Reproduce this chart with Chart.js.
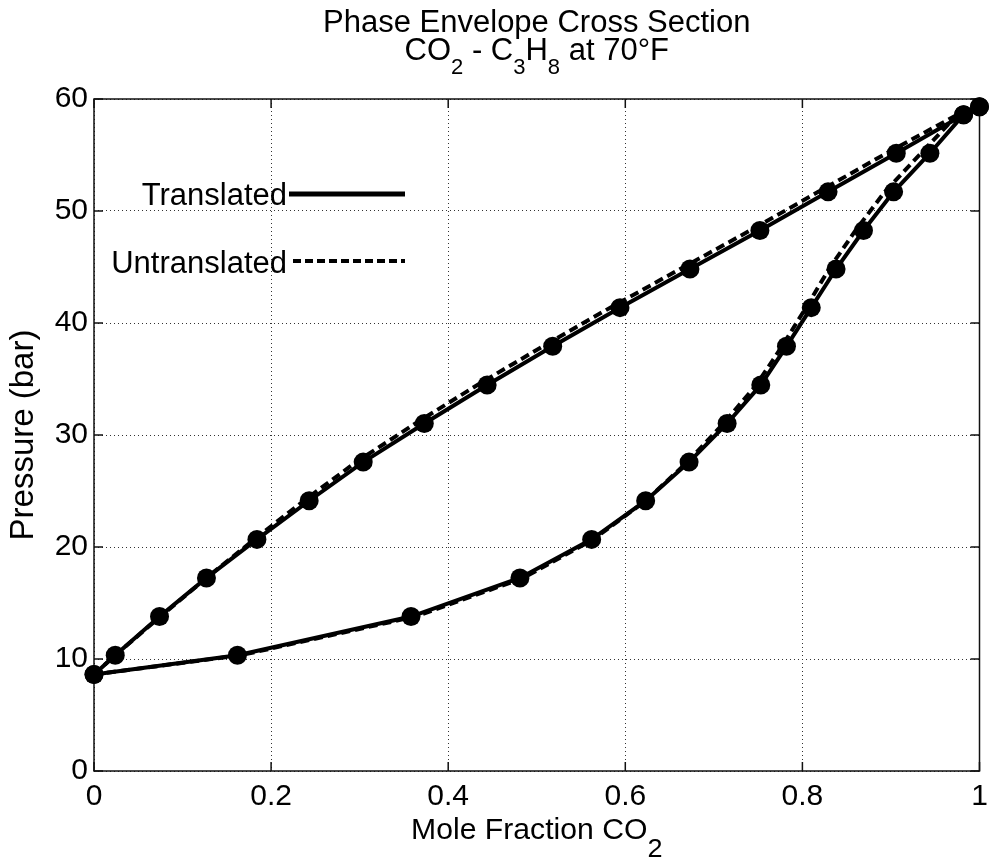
<!DOCTYPE html>
<html>
<head>
<meta charset="utf-8">
<title>Phase Envelope Cross Section</title>
<script src="https://cdn.jsdelivr.net/npm/chart.js@4.4.1/dist/chart.umd.min.js"></script>
<style>
  html, body { margin: 0; padding: 0; background: #fff; }
  #wrap { width: 989px; height: 860px; }
</style>
</head>
<body>
<div id="wrap"><canvas id="phase-chart" width="989" height="860"></canvas></div>
<script>
// pressure levels (bar) shared by both branches of the envelope
const PRESSURES = [8.62, 10.34, 13.79, 17.24, 20.68, 24.13, 27.58, 31.03, 34.47, 37.92, 41.37, 44.82, 48.26, 51.71, 55.16, 58.6, 59.3];

// mole fraction CO2, upper (bubble) and lower (dew) branches
const TRANSLATED_BUBBLE_X = [0, 0.024, 0.074, 0.127, 0.184, 0.243, 0.304, 0.373, 0.444, 0.518, 0.594, 0.673, 0.752, 0.829, 0.906, 0.982, 1.0];
const TRANSLATED_DEW_X = [0, 0.162, 0.358, 0.481, 0.562, 0.623, 0.672, 0.715, 0.753, 0.782, 0.810, 0.838, 0.869, 0.903, 0.944, 0.982, 1.0];
const UNTRANSLATED_BUBBLE_X = [0, 0.024, 0.075, 0.127, 0.181, 0.237, 0.296, 0.363, 0.433, 0.507, 0.583, 0.662, 0.741, 0.818, 0.895, 0.975, 1.0];
const UNTRANSLATED_DEW_X = [0, 0.166, 0.363, 0.485, 0.564, 0.623, 0.670, 0.711, 0.748, 0.777, 0.804, 0.830, 0.860, 0.893, 0.934, 0.975, 1.0];

const X_TICKS = [0, 0.2, 0.4, 0.6, 0.8, 1];
const Y_TICKS = [0, 10, 20, 30, 40, 50, 60];

const FONT = "'Liberation Sans', Arial, Helvetica, sans-serif";
const TICK_LEN = 9;

/**
 * Builds a closed loop: bubble branch going up, dew branch coming back down
 */
function envelope(bubbleX, dewX) {
  const up = bubbleX.map((x, i) => ({ x: x, y: PRESSURES[i] }));
  const down = dewX.map((x, i) => ({ x: x, y: PRESSURES[i] })).reverse();
  return up.concat(down);
}

/**
 * Draws a line of text with subscript pieces, centred on cx
 * parts: [text, isSub]
 */
function drawRich(ctx, parts, cx, baseline, opts) {
  ctx.save();
  ctx.textAlign = 'left';
  ctx.textBaseline = 'alphabetic';
  ctx.fillStyle = '#000';
  const widths = parts.map(([t, sub]) => {
    ctx.font = `${sub ? opts.subSize : opts.size}px ${FONT}`;
    return ctx.measureText(t).width;
  });
  const total = widths.reduce((a, b) => a + b, 0);
  ctx.translate(cx, baseline);
  ctx.scale(opts.stretch, 1);
  let x = -total / 2;
  parts.forEach(([t, sub], i) => {
    ctx.font = `${sub ? opts.subSize : opts.size}px ${FONT}`;
    ctx.fillText(t, x, sub ? opts.subDrop : 0);
    x += widths[i];
  });
  ctx.restore();
}

// box round the axes with inward ticks on all four sides
const framePlugin = {
  id: 'frame',
  beforeDatasetsDraw(chart) {
    const { ctx, chartArea: a, scales } = chart;
    ctx.save();
    ctx.strokeStyle = '#111';
    ctx.lineWidth = 1.5;
    ctx.strokeRect(a.left, a.top, a.right - a.left, a.bottom - a.top);
    ctx.beginPath();
    X_TICKS.forEach((v) => {
      const px = scales.x.getPixelForValue(v);
      ctx.moveTo(px, a.bottom);
      ctx.lineTo(px, a.bottom - TICK_LEN);
      ctx.moveTo(px, a.top);
      ctx.lineTo(px, a.top + TICK_LEN);
    });
    Y_TICKS.forEach((v) => {
      const py = scales.y.getPixelForValue(v);
      ctx.moveTo(a.left, py);
      ctx.lineTo(a.left + TICK_LEN, py);
      ctx.moveTo(a.right, py);
      ctx.lineTo(a.right - TICK_LEN, py);
    });
    ctx.stroke();
    ctx.restore();
  },
};

// titles with subscripts and the in-plot legend
const textPlugin = {
  id: 'texts',
  afterDraw(chart) {
    const { ctx, chartArea: a } = chart;
    const cx = (a.left + a.right) / 2;

    drawRich(ctx, [['Phase Envelope Cross Section', false]], cx, 32, { size: 31, subSize: 22, subDrop: 14, stretch: 1.0 });
    drawRich(ctx, [['CO', false], ['2', true], [' - C', false], ['3', true], ['H', false], ['8', true], [' at 70°F', false]],
      cx, 60, { size: 31, subSize: 22, subDrop: 14, stretch: 1.0 });
    drawRich(ctx, [['Mole Fraction CO', false], ['2', true]], cx, 839, { size: 29, subSize: 26, subDrop: 18, stretch: 1.04 });

    // legend
    ctx.save();
    ctx.fillStyle = '#000';
    ctx.font = `31px ${FONT}`;
    ctx.textAlign = 'right';
    ctx.textBaseline = 'alphabetic';
    ctx.fillText('Translated', 287, 205);
    ctx.fillText('Untranslated', 287, 273);
    ctx.strokeStyle = '#000';
    ctx.lineWidth = 5;
    ctx.beginPath();
    ctx.moveTo(289, 194);
    ctx.lineTo(405, 194);
    ctx.stroke();
    ctx.lineWidth = 4;
    ctx.setLineDash([8, 4]);
    ctx.beginPath();
    ctx.moveTo(293, 261);
    ctx.lineTo(405, 261);
    ctx.stroke();
    ctx.restore();
  },
};

const chartContext = document.getElementById('phase-chart').getContext('2d');
const phaseChart = new Chart(chartContext, {
  type: 'line',
  data: {
    datasets: [
      {
        label: 'Translated',
        data: envelope(TRANSLATED_BUBBLE_X, TRANSLATED_DEW_X),
        borderColor: '#000',
        borderWidth: 4,
        pointRadius: 9.5,
        pointBackgroundColor: '#000',
        pointBorderWidth: 0,
        tension: 0,
        clip: false,
      },
      {
        label: 'Untranslated',
        data: envelope(UNTRANSLATED_BUBBLE_X, UNTRANSLATED_DEW_X),
        borderColor: '#000',
        borderWidth: 4,
        borderDash: [9, 5],
        pointRadius: 0,
        tension: 0,
        clip: false,
      },
    ],
  },
  options: {
    responsive: false,
    animation: false,
    devicePixelRatio: 1,
    layout: { padding: { top: 99, right: 5, bottom: 0, left: 0 } },
    plugins: {
      legend: { display: false },
      tooltip: { enabled: false },
      title: { display: false },
    },
    scales: {
      x: {
        type: 'linear',
        min: 0,
        max: 1,
        afterBuildTicks: (scale) => {
          scale.ticks = X_TICKS.map((v) => ({ value: v }));
        },
        afterFit: (scale) => {
          scale.height = 89;
          scale.paddingLeft = 0;
          scale.paddingRight = 0;
        },
        ticks: {
          color: '#000',
          font: { family: FONT, size: 30 },
          padding: 8,
          maxRotation: 0,
          autoSkip: false,
          callback: (value) => String(value),
        },
        grid: { color: '#333', lineWidth: 1, drawTicks: false },
        border: { display: false, dash: [1, 3] },
      },
      y: {
        type: 'linear',
        min: 0,
        max: 60,
        afterBuildTicks: (scale) => {
          scale.ticks = Y_TICKS.map((v) => ({ value: v }));
        },
        afterFit: (scale) => {
          scale.width = 94;
          scale.paddingTop = 0;
          scale.paddingBottom = 0;
        },
        ticks: { color: '#000', font: { family: FONT, size: 30 }, padding: 6, callback: (value) => String(value) },
        grid: { color: '#333', lineWidth: 1, drawTicks: false },
        border: { display: false, dash: [1, 3] },
        title: {
          display: true,
          text: 'Pressure (bar)',
          color: '#000',
          font: { family: FONT, size: 33 },
          padding: { top: 4, bottom: 0 },
        },
      },
    },
  },
  plugins: [framePlugin, textPlugin],
});
</script>
</body>
</html>
